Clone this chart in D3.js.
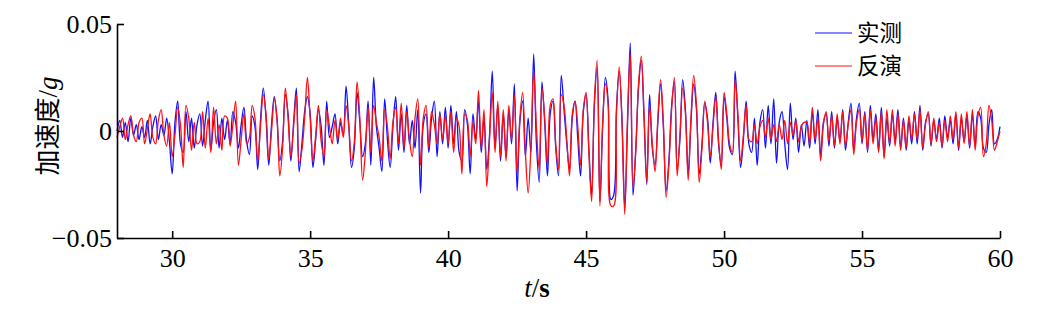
<!DOCTYPE html>
<html>
<head>
<meta charset="utf-8">
<script src="https://cdn.jsdelivr.net/npm/d3@7"></script>
<style>
  body { margin: 0; background: #fff; }
  svg { display: block; }
  .axis path, .axis line { stroke: #000; stroke-width: 1.6; }
  .axis text { font-family: "Times New Roman", "Liberation Serif", Tinos, "DejaVu Serif", serif; font-size: 26px; fill: #000; }
  .label { font-family: "Times New Roman", "Liberation Serif", Tinos, "DejaVu Serif", serif; font-size: 27px; fill: #000; }
  .cjk { font-family: "Noto Sans CJK SC", sans-serif; }
</style>
</head>
<body>
<svg id="chart" width="1045" height="314"></svg>
<script>
// time axis: 28 s to 60 s, sampled every 0.1 s
const tStart = 28, tStep = 0.1;

// acceleration, in units of 0.001 g, one row per second
const measured = [
  0, 5, -3, 4, -5, 6, -2, 3, -4, 2,            // 28
  -3, 5, -6, 2, 7, -4, 3, -2, 6, -5,           // 29
  -20, 4, 14, -6, -10, 9, -5, 6, -8, 3,        // 30
  8, -7, 5, 14, -9, 4, 10, -8, 6, -4,          // 31
  5, -6, 9, 4, -8, 3, 11, -5, -11, 7,          // 32
  2, -18, 5, 20, 6, -16, 3, 16, 5, -14,        // 33
  -5, 17, 8, -14, 4, 20, -19, -6, 9, 16,       // 34
  8, -17, -4, 10, 2, -16, 14, -3, 2, 8,        // 35
  -6, 4, -2, 21, 3, -17, -8, 18, 4, -12,       // 36
  -6, 14, -16, 25, 2, -8, -19, 15, -4, -17,    // 37
  2, 16, -9, 8, -10, 12, -6, 5, -8, 10,        // 38
  -29, 3, 8, -10, 6, 14, -12, 9, -6, 11,       // 39
  -8, 12, -6, 9, -10, -14, 10, 3, -20, 8,      // 40
  -4, 14, -10, 6, -18, -2, 28, -8, 12, -14,    // 41
  8, -12, 10, -6, 22, -28, 4, 14, -12, 6,      // 42
  -10, 36, -6, -24, 23, 4, -21, 8, 14, -8,     // 43
  -21, 26, 10, -6, -18, 6, 14, -4, -21, 9,     // 44
  17, -8, -30, 12, 30, -33, 2, 25, 14, -32,    // 45
  -30, 10, 28, 6, -36, 2, 41, -30, -8, 20,     // 46
  33, 6, -25, 17, -8, -16, 4, 22, 2, -28,      // 47
  -14, 12, 23, -18, -4, 24, 10, -20, 4, 22,    // 48
  10, -20, -6, 13, 6, -15, 4, 18, -6, -16,     // 49
  16, 6, -8, -11, 28, 6, -17, -4, 14, -6,      // 50
  -10, 6, -16, 4, 10, -8, 12, -6, 15, -15,     // 51
  4, 9, -6, -18, 13, -4, 6, -10, 3, -7,        // 52
  5, -8, 9, -6, 10, -12, 4, 8, -7, 9,          // 53
  -8, 6, -5, 10, -9, 4, 13, -9, 6, 13,         // 54
  -6, 9, -10, 12, -4, 8, -9, 11, -12, 6,       // 55
  -7, 8, -5, 10, -8, 6, -9, 5, -6, 9,          // 56
  -6, 12, -9, 4, 8, -7, 5, -4, 6, -8,          // 57
  7, -3, 5, -6, 8, -9, 6, -5, 7, -8,           // 58
  8, -7, 9, 6, -8, -10, 3, 10, -6, -4,         // 59
  2                                            // 60
];

const inverted = [
  -3, 2, 6, -4, 3, 7, -2, -5, 4, 6,            // 28
  -6, 1, 8, -3, -6, 5, 10, -2, -7, 4,          // 29
  -12, -2, 11, 3, -17, 12, 6, -9, 4, -6,       // 30
  -5, 9, -8, 6, -10, 11, -6, 3, -9, 7,         // 31
  6, -7, 3, 14, -16, -4, 8, -6, -3, 12,        // 32
  6, -14, 2, 17, 8, -13, 0, 15, 6, -21,        // 33
  -8, 20, 6, -12, 2, 17, -15, -9, 6, 25,       // 34
  6, -14, -2, 12, -5, -12, 10, 2, -6, 5,       // 35
  -4, 6, -3, 12, 2, -14, -5, 23, 6, -23,       // 36
  -10, 11, -10, 12, 4, -3, -14, 10, 2, -13,    // 37
  4, 11, -6, 13, -8, 9, -4, -12, 6, 15,        // 38
  -16, 6, 12, -8, 9, 3, -6, 8, -4, 7,          // 39
  -6, 9, -10, 6, 2, -20, 8, 5, -12, 4,         // 40
  -6, 19, -8, 10, -26, -4, 18, -10, 14, -12,   // 41
  10, -14, 12, -4, 17, -20, 6, 18, -10, -29,   // 42
  -8, 28, 2, -18, 20, 6, -16, 12, 15, -6,      // 43
  -18, 17, 12, -4, -21, 8, 14, 2, -16, 10,     // 44
  18, -10, -33, 14, 33, -35, 4, 22, 12, -35,   // 45
  -35, 8, 30, 4, -39, 6, 36, -26, -10, 22,     // 46
  35, 8, -24, 12, -6, -19, 6, 24, 4, -31,      // 47
  -16, 10, 25, -21, -2, 20, 8, -23, 6, 26,     // 48
  12, -24, -8, 14, 4, -12, 2, 16, -4, -18,     // 49
  18, 8, -6, -10, 24, 8, -14, -2, 12, -4,      // 50
  -5, 3, -6, 2, 5, -3, 6, -4, 3, -5,           // 51
  3, -4, 5, -6, 4, -2, 5, -5, 2, 4,            // 52
  4, -6, 11, -4, 6, -14, 3, 9, -5, 7,          // 53
  -7, 8, -6, 9, -7, 3, 10, -11, 4, 10,         // 54
  -5, 8, -9, 10, -6, 6, -10, 9, -13, 10,       // 55
  -6, 10, -7, 8, -9, 5, -8, 7, -4, 8,          // 56
  -4, 10, -8, 3, 9, -6, 6, -5, 4, -7,          // 57
  5, -5, 7, -4, 9, -8, 8, -6, 9, -7,           // 58
  10, -9, 7, 11, -12, -6, 12, 5, -9, -5,       // 59
  0                                            // 60
];

const xTicks = [30, 35, 40, 45, 50, 55, 60];
const yTicks = [0.05, 0, -0.05];
const yTickLabels = ["0.05", "0", "\u22120.05"];
const seriesNames = ["实测", "反演"];
const seriesColors = ["#1010ff", "#ff1010"];

const svg = d3.select("#chart");
const margin = {top: 24, right: 45, bottom: 76, left: 117};
const width = 1045, height = 314;

const x = d3.scaleLinear()
    .domain([28, 60])
    .range([margin.left, width - margin.right]);

const y = d3.scaleLinear()
    .domain([-0.05, 0.05])
    .range([height - margin.bottom, margin.top]);

const toPoints = arr => arr.map((v, i) => [tStart + i * tStep, v / 1000]);

const line = d3.line()
    .curve(d3.curveCatmullRom.alpha(0.5))
    .x(d => x(d[0]))
    .y(d => y(d[1]));

// series: measured first, inverted on top
[measured, inverted].forEach((arr, i) => {
  svg.append("path")
    .attr("d", line(toPoints(arr)))
    .attr("fill", "none")
    .attr("stroke", seriesColors[i])
    .attr("stroke-width", 1.3)
    .attr("stroke-linejoin", "round");
});

// axes, ticks pointing inward
svg.append("g")
    .attr("class", "axis")
    .attr("transform", `translate(0,${height - margin.bottom})`)
    .call(d3.axisBottom(x)
        .tickValues(xTicks)
        .tickSizeInner(-7)
        .tickSizeOuter(0)
        .tickPadding(11)
        .tickFormat(d3.format("d")))
    .call(g => g.selectAll("text").attr("dy", "0.71em"));

svg.append("g")
    .attr("class", "axis")
    .attr("transform", `translate(${margin.left},0)`)
    .call(d3.axisLeft(y)
        .tickValues(yTicks)
        .tickSizeInner(-7)
        .tickSizeOuter(0)
        .tickPadding(5)
        .tickFormat((d, i) => yTickLabels[i]));

// axis titles
const xTitle = svg.append("text")
    .attr("class", "label")
    .attr("x", 537)
    .attr("y", 297)
    .attr("text-anchor", "middle");
xTitle.append("tspan").attr("font-style", "italic").text("t");
xTitle.append("tspan").text("/");
xTitle.append("tspan").attr("font-weight", "bold").text("s");

const yTitle = svg.append("text")
    .attr("class", "label")
    .attr("transform", "translate(57,126) rotate(-90)")
    .attr("text-anchor", "middle");
yTitle.append("tspan").attr("class", "cjk").attr("font-size", 26).text("加速度");
yTitle.append("tspan").text("/");
yTitle.append("tspan").attr("font-style", "italic").text("g");

// legend
const legend = svg.append("g").attr("transform", "translate(815,33)");
seriesNames.forEach((name, i) => {
  const row = legend.append("g").attr("transform", `translate(0,${i * 33})`);
  row.append("line")
    .attr("x1", 0).attr("x2", 37)
    .attr("stroke", seriesColors[i])
    .attr("stroke-width", 1.2);
  row.append("text")
    .attr("class", "cjk")
    .attr("x", 42)
    .attr("dy", "0.36em")
    .attr("font-size", 22.5)
    .attr("fill", "#000")
    .text(name);
});
</script>
</body>
</html>
